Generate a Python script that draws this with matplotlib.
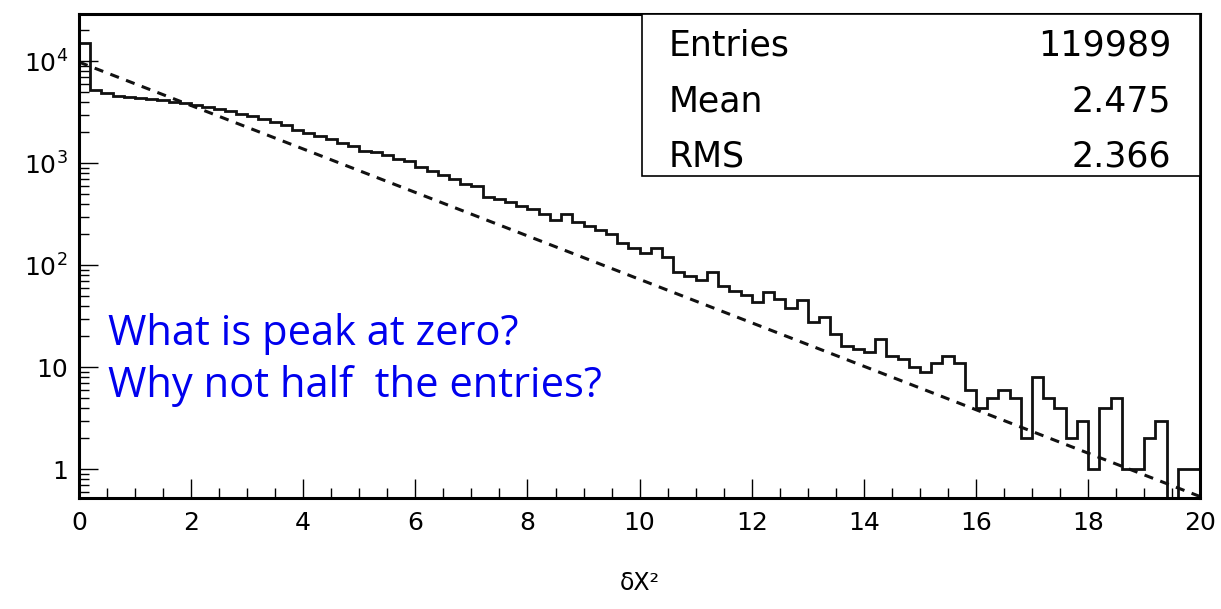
import numpy as np
import matplotlib.pyplot as plt
from matplotlib.ticker import MultipleLocator, LogLocator, NullFormatter, FixedFormatter, FixedLocator

# histogram: 100 bins of width 0.2 from 0 to 20 (log10 of counts)
bin_edges = np.linspace(0, 20, 101)
log_counts = [
    4.18, 3.72, 3.69, 3.66, 3.65, 3.64, 3.63, 3.62, 3.60, 3.59,
    3.57, 3.55, 3.53, 3.51, 3.48, 3.46, 3.43, 3.40, 3.37, 3.33,
    3.30, 3.27, 3.24, 3.20, 3.17, 3.12, 3.11, 3.08, 3.04, 3.02,
    2.96, 2.92, 2.88, 2.84, 2.80, 2.78, 2.67, 2.65, 2.62, 2.58,
    2.55, 2.50, 2.44, 2.50, 2.42, 2.38, 2.34, 2.30, 2.22, 2.17,
    2.12, 2.17, 2.08, 1.93, 1.90, 1.86, 1.93, 1.79, 1.75, 1.71,
    1.64, 1.73, 1.67, 1.58, 1.66, 1.44, 1.49,
]
counts_tail = [21, 16, 15, 14, 19, 13, 12, 10, 9, 11, 13, 11, 6, 4, 5, 6, 5, 2, 8,
               5, 4, 2, 3, 1, 4, 5, 1, 1, 2, 3, 0, 1, 1]
counts = [round(10 ** v) for v in log_counts] + counts_tail

# exponential fit (dashed)
fit_amp = 9800.0
fit_slope = -0.213  # log10 per unit

stats_names = ["Entries", "Mean", "RMS"]
stats_vals = ["119989", "2.475", "2.366"]

fig = plt.figure(figsize=(12.21, 6.09), dpi=100)
ax = fig.add_axes([0.0647, 0.182, 0.9183, 0.795])

ax.stairs(counts, bin_edges, color="#111111", linewidth=2.0, baseline=None)
fx = np.array([0.0, 20.0])
ax.plot(fx, fit_amp * 10 ** (fit_slope * fx), color="#111111", linestyle=(0, (3, 2.5)), linewidth=2.2)

ax.set_yscale("log")
ax.set_xlim(0, 20)
ax.set_ylim(0.52, 29000)

ax.xaxis.set_major_locator(MultipleLocator(2))
ax.xaxis.set_minor_locator(MultipleLocator(0.5))
ax.yaxis.set_major_locator(FixedLocator([1, 10, 100, 1000, 10000]))
ax.yaxis.set_major_formatter(FixedFormatter(["1", "10", r"10$^{2}$", r"10$^{3}$", r"10$^{4}$"]))
ax.yaxis.set_minor_locator(LogLocator(base=10, subs=np.arange(2, 10)))
ax.yaxis.set_minor_formatter(NullFormatter())
ax.tick_params(which="both", direction="in", labelsize=18, colors="black")
ax.tick_params(which="major", length=14, width=1)
ax.tick_params(which="minor", length=7, width=1)
ax.tick_params(axis="x", pad=9)
ax.tick_params(axis="y", pad=8)
for lab in ax.get_xticklabels() + ax.get_yticklabels():
    lab.set_fontfamily("DejaVu Sans")
for s in ax.spines.values():
    s.set_linewidth(2.2)

ax.set_xlabel("δX²", fontsize=17, family="DejaVu Sans", labelpad=26)

# stats box
box = plt.Rectangle((0.502, 0.665), 0.498, 0.335, transform=ax.transAxes,
                    facecolor="white", edgecolor="black", linewidth=1.2, zorder=5)
ax.add_patch(box)
for i, (n, v) in enumerate(zip(stats_names, stats_vals)):
    yy = 0.935 - i * 0.115
    ax.text(0.526, yy, n, transform=ax.transAxes, fontsize=25, family="DejaVu Sans",
            va="center", ha="left", zorder=6)
    ax.text(0.974, yy, v, transform=ax.transAxes, fontsize=25, family="DejaVu Sans",
            va="center", ha="right", zorder=6)

ax.text(0.026, 0.285, "What is peak at zero?\nWhy not half  the entries?", transform=ax.transAxes,
        fontsize=30, color="#0000ee", family="Open Sans", va="center", ha="left",
        linespacing=1.32)

fig.savefig("out.png", dpi=100)
